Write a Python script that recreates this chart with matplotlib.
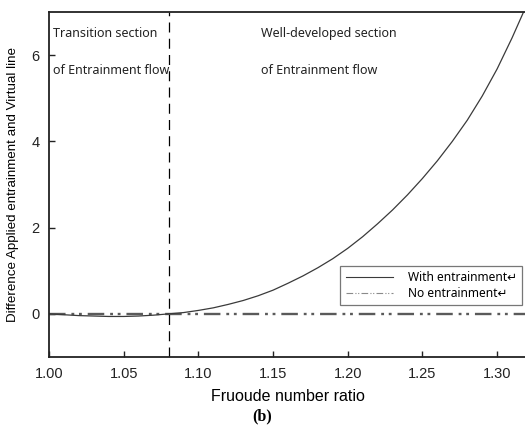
import matplotlib
matplotlib.use("Agg")
import matplotlib.pyplot as plt
from matplotlib.lines import Line2D

# Froude number ratio vs. difference between applied entrainment and virtual line
froude = [1.00, 1.01, 1.02, 1.03, 1.04, 1.05, 1.06, 1.07, 1.08, 1.09,
          1.10, 1.11, 1.12, 1.13, 1.14, 1.15, 1.16, 1.17, 1.18, 1.19,
          1.20, 1.21, 1.22, 1.23, 1.24, 1.25, 1.26, 1.27, 1.28, 1.29,
          1.30, 1.31, 1.32]
with_entr = [0.00, -0.02, -0.04, -0.05, -0.06, -0.06, -0.05, -0.03, 0.00, 0.03,
             0.08, 0.14, 0.22, 0.31, 0.42, 0.55, 0.71, 0.88, 1.07, 1.28,
             1.52, 1.79, 2.09, 2.41, 2.76, 3.14, 3.55, 4.00, 4.49, 5.05,
             5.68, 6.40, 7.18]
no_entr = [0.0] * len(froude)

transition_x = 1.08
xticks = [1.00, 1.05, 1.10, 1.15, 1.20, 1.25, 1.30]
yticks = [0, 2, 4, 6]

fig = plt.figure(figsize=(5.25, 4.32), dpi=100)
ax = fig.add_axes([49 / 525, 75 / 432, 478 / 525, 345 / 432])

dashdotdot = (7, 2.5, 1.2, 2, 1.2, 2.5)
ax.plot(froude, no_entr, color="#5a5a5a", lw=1.7, dashes=dashdotdot)
ax.plot(froude, with_entr, color="#3a3a3a", lw=0.9)
ax.axvline(transition_x, color="black", lw=0.9, dashes=(8, 5))

ax.set_xlim(1.00, 1.32)
ax.set_ylim(-1, 7)
ax.set_xticks(xticks)
ax.set_xticklabels(["%.2f" % v for v in xticks])
ax.set_yticks(yticks)
ax.tick_params(direction="in", length=4, width=1, labelsize=10.5, pad=7,
               colors="#222222")
for lab in ax.get_xticklabels() + ax.get_yticklabels():
    lab.set_family("Liberation Sans")
for side in ["left", "bottom", "top"]:
    ax.spines[side].set_linewidth(1.3)
    ax.spines[side].set_color("#222222")
ax.spines["right"].set_visible(False)

ax.set_xlabel("Fruoude number ratio", family="Liberation Sans", fontsize=11.5,
              labelpad=6)
ax.set_ylabel("Difference Applied entrainment and Virtual line",
              family="Liberation Sans", fontsize=9.6, labelpad=9)

note = dict(family="Noto Sans", fontsize=9, color="#222222", va="center")
ax.text(1.003, 6.5, "Transition section", **note)
ax.text(1.003, 5.65, "of Entrainment flow", **note)
ax.text(1.142, 6.5, "Well-developed section", **note)
ax.text(1.142, 5.65, "of Entrainment flow", **note)

handles = [Line2D([], [], color="#3a3a3a", lw=0.8),
           Line2D([], [], color="#8a8a8a", lw=0.8, dashes=(6, 2, 1, 1.5, 1, 2))]
leg = ax.legend(handles, ["With entrainment\u21b5", "No entrainment\u21b5"],
                loc="lower right", bbox_to_anchor=(0.99, 0.15),
                prop={"family": ["Noto Sans", "DejaVu Sans"], "size": 8.6},
                frameon=True, fancybox=False, edgecolor="#555555",
                handlelength=4.0, labelspacing=0.25, borderpad=0.45,
                handletextpad=1.2, borderaxespad=0)
leg.get_frame().set_linewidth(0.9)

fig.text(262 / 525, 1 - 416 / 432, "(b)", family="Liberation Serif",
         weight="bold", fontsize=11.5, ha="center", va="center")

fig.savefig("out.png", dpi=100)
